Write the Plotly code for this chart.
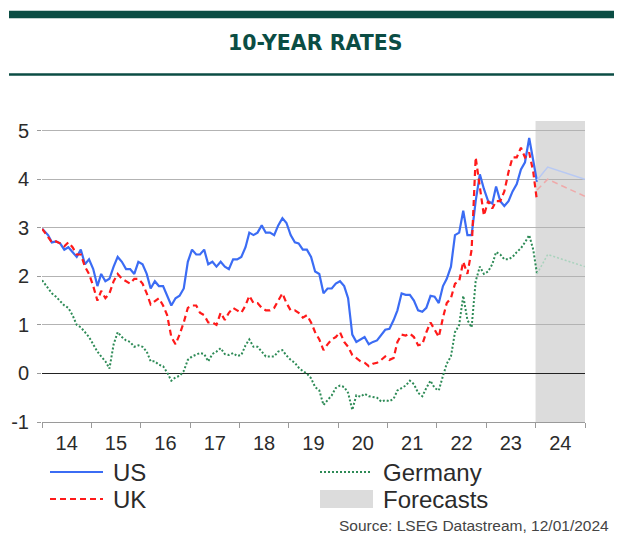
import pandas as pd
import plotly.graph_objects as go

# ---------------- data ----------------
months = pd.date_range("2014-01-15", "2023-12-15", freq="MS") + pd.Timedelta(days=14)
dates = ["2014-01-02"] + [d.strftime("%Y-%m-%d") for d in months] + ["2024-01-12"]

us = [2.98,
      2.85, 2.70, 2.72, 2.68, 2.55, 2.60, 2.50, 2.40, 2.55, 2.25, 2.35, 2.15,
      1.80, 2.05, 1.90, 1.95, 2.20, 2.40, 2.30, 2.15, 2.15, 2.05, 2.30, 2.25,
      2.05, 1.75, 1.90, 1.80, 1.80, 1.60, 1.40, 1.55, 1.60, 1.75, 2.30, 2.55,
      2.45, 2.45, 2.55, 2.25, 2.30, 2.20, 2.30, 2.20, 2.15, 2.35, 2.35, 2.40,
      2.60, 2.90, 2.85, 2.90, 3.05, 2.90, 2.90, 2.85, 3.05, 3.20, 3.10, 2.85,
      2.70, 2.68, 2.55, 2.55, 2.40, 2.10, 2.05, 1.65, 1.75, 1.75, 1.85, 1.90,
      1.80, 1.55, 0.80, 0.65, 0.70, 0.75, 0.60, 0.65, 0.68, 0.80, 0.90, 0.92,
      1.10, 1.30, 1.65, 1.62, 1.62, 1.50, 1.30, 1.27, 1.35, 1.60, 1.58, 1.45,
      1.80, 1.95, 2.20, 2.85, 2.90, 3.35, 2.85, 2.85, 3.55, 4.10, 3.80, 3.55,
      3.50, 3.85, 3.55, 3.45, 3.55, 3.75, 3.90, 4.20, 4.35, 4.85, 4.40, 3.95,
      3.98]

uk = [2.98,
      2.80, 2.70, 2.72, 2.68, 2.62, 2.70, 2.60, 2.45, 2.45, 2.20, 2.05, 1.80,
      1.50, 1.70, 1.55, 1.65, 1.90, 2.05, 1.95, 1.90, 1.85, 1.95, 1.95, 1.85,
      1.65, 1.42, 1.48, 1.55, 1.40, 1.20, 0.75, 0.60, 0.80, 1.05, 1.35, 1.40,
      1.40, 1.25, 1.20, 1.05, 1.05, 1.00, 1.25, 1.10, 1.25, 1.35, 1.30, 1.25,
      1.40, 1.60, 1.45, 1.45, 1.35, 1.30, 1.30, 1.35, 1.50, 1.65, 1.45, 1.30,
      1.30, 1.25, 1.15, 1.20, 1.05, 0.85, 0.70, 0.48, 0.60, 0.70, 0.75, 0.85,
      0.65, 0.55, 0.38, 0.32, 0.25, 0.22, 0.15, 0.20, 0.22, 0.28, 0.35, 0.28,
      0.32, 0.65, 0.80, 0.78, 0.82, 0.75, 0.58, 0.60, 0.85, 1.05, 0.90, 0.75,
      1.15, 1.45, 1.55, 1.85, 1.90, 2.30, 2.05, 2.55, 4.45, 3.85, 3.25, 3.55,
      3.40, 3.55, 3.55, 3.75, 4.15, 4.45, 4.45, 4.65, 4.45, 4.55, 4.15, 3.55,
      3.78]

germany = [1.92,
           1.75, 1.65, 1.58, 1.50, 1.40, 1.35, 1.20, 1.00, 0.95, 0.85, 0.75, 0.60,
           0.45, 0.35, 0.25, 0.10, 0.60, 0.85, 0.75, 0.68, 0.65, 0.55, 0.58, 0.55,
           0.45, 0.25, 0.25, 0.18, 0.15, 0.02, -0.15, -0.08, -0.05, 0.05, 0.28, 0.35,
           0.38, 0.42, 0.40, 0.25, 0.40, 0.45, 0.52, 0.40, 0.38, 0.42, 0.36, 0.38,
           0.58, 0.70, 0.55, 0.55, 0.45, 0.35, 0.35, 0.35, 0.45, 0.48, 0.37, 0.28,
           0.22, 0.12, 0.05, 0.00, -0.10, -0.28, -0.35, -0.65, -0.55, -0.45, -0.30, -0.25,
           -0.28, -0.40, -0.75, -0.45, -0.48, -0.42, -0.47, -0.48, -0.50, -0.58, -0.55, -0.57,
           -0.52, -0.35, -0.30, -0.25, -0.15, -0.22, -0.40, -0.47, -0.30, -0.15, -0.30, -0.35,
           -0.05, 0.20, 0.35, 0.85, 1.00, 1.60, 1.10, 0.95, 1.90, 2.20, 2.05, 2.10,
           2.25, 2.50, 2.45, 2.35, 2.35, 2.40, 2.50, 2.58, 2.70, 2.85, 2.55, 2.05,
           2.15]

fc_dates = ["2024-01-12", "2024-03-31", "2024-12-31"]
fc_us = [3.98, 4.25, 4.00]
fc_uk = [3.78, 4.00, 3.65]
fc_germany = [2.05, 2.45, 2.20]

forecast_start, forecast_end = "2024-01-01", "2025-01-01"
y_ticks = [-1, 0, 1, 2, 3, 4, 5]

# ---------------- style ----------------
W, H = 623, 535
L, R, T, B = 42, 585, 121, 422
BLUE, RED, GREEN = "#3b6cf4", "#ff1a1a", "#2e8b57"
DARK = "#0b4d44"
FONT = "Liberation Sans, Arial, sans-serif"
TXT = "#2b2b2b"


def px(x):
    return (x - L) / (R - L)


def py(y):
    return (B - y) / (B - T)


fig = go.Figure()
fig.add_trace(go.Scatter(x=dates, y=us, mode="lines", line=dict(color=BLUE, width=2.2), name="US"))
fig.add_trace(go.Scatter(x=dates, y=uk, mode="lines", line=dict(color=RED, width=2.2, dash="6px,4px"), name="UK"))
fig.add_trace(go.Scatter(x=dates, y=germany, mode="lines", line=dict(color=GREEN, width=2, dash="2px,2px"), name="Germany"))
fig.add_trace(go.Scatter(x=fc_dates, y=fc_us, mode="lines", line=dict(color="#b8c9f3", width=1.5), showlegend=False))
fig.add_trace(go.Scatter(x=fc_dates, y=fc_uk, mode="lines", line=dict(color="#efaaaa", width=1.5, dash="6px,4px"), showlegend=False))
fig.add_trace(go.Scatter(x=fc_dates, y=fc_germany, mode="lines", line=dict(color="#a9d3bd", width=1.5, dash="2px,2px"), showlegend=False))

shapes = [
    dict(type="rect", xref="x", yref="paper", x0=forecast_start, x1=forecast_end, y0=0, y1=1,
         fillcolor="#dcdcdc", line_width=0, layer="below"),
    # header bars
    dict(type="rect", xref="paper", yref="paper", x0=px(9), x1=px(614), y0=py(18.3), y1=py(10.8),
         fillcolor=DARK, line_width=0),
    dict(type="line", xref="paper", yref="paper", x0=px(9), x1=px(614), y0=py(74.6), y1=py(74.6),
         line=dict(color=DARK, width=2.5)),
    # legend samples
    dict(type="line", xref="paper", yref="paper", x0=px(50), x1=px(103), y0=py(472), y1=py(472),
         line=dict(color=BLUE, width=2)),
    dict(type="line", xref="paper", yref="paper", x0=px(50), x1=px(103), y0=py(499), y1=py(499),
         line=dict(color=RED, width=2, dash="6px,4px")),
    dict(type="line", xref="paper", yref="paper", x0=px(320), x1=px(372), y0=py(472), y1=py(472),
         line=dict(color=GREEN, width=2, dash="2px,2px")),
    dict(type="rect", xref="paper", yref="paper", x0=px(320), x1=px(373), y0=py(508), y1=py(490),
         fillcolor="#dcdcdc", line_width=0),
]

annotations = [
    dict(text="<b>10-YEAR RATES</b>", x=px(315), y=py(42.5), xref="paper", yref="paper",
         showarrow=False, xanchor="center", yanchor="middle",
         font=dict(family="DejaVu Sans, sans-serif", size=20.5, color=DARK)),
    dict(text="US", x=px(111), y=py(472), xref="paper", yref="paper", showarrow=False,
         xanchor="left", yanchor="middle", font=dict(family=FONT, size=24, color=TXT)),
    dict(text="UK", x=px(111), y=py(499), xref="paper", yref="paper", showarrow=False,
         xanchor="left", yanchor="middle", font=dict(family=FONT, size=24, color=TXT)),
    dict(text="Germany", x=px(381), y=py(472), xref="paper", yref="paper", showarrow=False,
         xanchor="left", yanchor="middle", font=dict(family=FONT, size=24, color=TXT)),
    dict(text="Forecasts", x=px(381), y=py(499), xref="paper", yref="paper", showarrow=False,
         xanchor="left", yanchor="middle", font=dict(family=FONT, size=24, color=TXT)),
    dict(text="Source: LSEG Datastream, 12/01/2024", x=px(611), y=py(525), xref="paper", yref="paper",
         showarrow=False, xanchor="right", yanchor="middle",
         font=dict(family=FONT, size=15.5, color="#444444")),
]

axis_font = dict(family=FONT, size=20, color=TXT)

fig.update_layout(
    width=W, height=H,
    margin=dict(l=L, r=W - R, t=T, b=H - B, pad=0),
    paper_bgcolor="white", plot_bgcolor="white",
    showlegend=False,
    shapes=shapes, annotations=annotations,
    xaxis=dict(
        type="date", range=["2014-01-01", "2025-01-01"],
        dtick="M12", tick0="2014-01-01", tickformat="%y", ticklabelmode="period",
        ticks="outside", ticklen=5, tickcolor="#9a9a9a", tickwidth=1,
        showgrid=False, showline=True, linecolor="#9a9a9a", linewidth=1,
        zeroline=False, tickfont=axis_font, ticklabelstandoff=-2,
    ),
    yaxis=dict(
        range=[-1, 5.2], tickvals=y_ticks, ticktext=[str(v) for v in y_ticks],
        showgrid=True, gridcolor="#b3b3b3", gridwidth=1,
        zeroline=True, zerolinecolor="#222222", zerolinewidth=1,
        ticks="outside", ticklen=4, tickcolor="#9a9a9a", showline=False,
        tickfont=axis_font, ticklabelstandoff=4,
    ),
    yaxis2=dict(
        range=[-1, 5.2], tickvals=y_ticks, ticktext=[str(v) for v in y_ticks],
        overlaying="y", side="right", showgrid=False, zeroline=False,
        ticks="outside", ticklen=6, tickcolor="#9a9a9a", showline=False,
        tickfont=axis_font, ticklabelstandoff=10,
    ),
)

fig.write_html("out.html", config={"displayModeBar": False},
               post_script="document.body.style.margin='0';")
